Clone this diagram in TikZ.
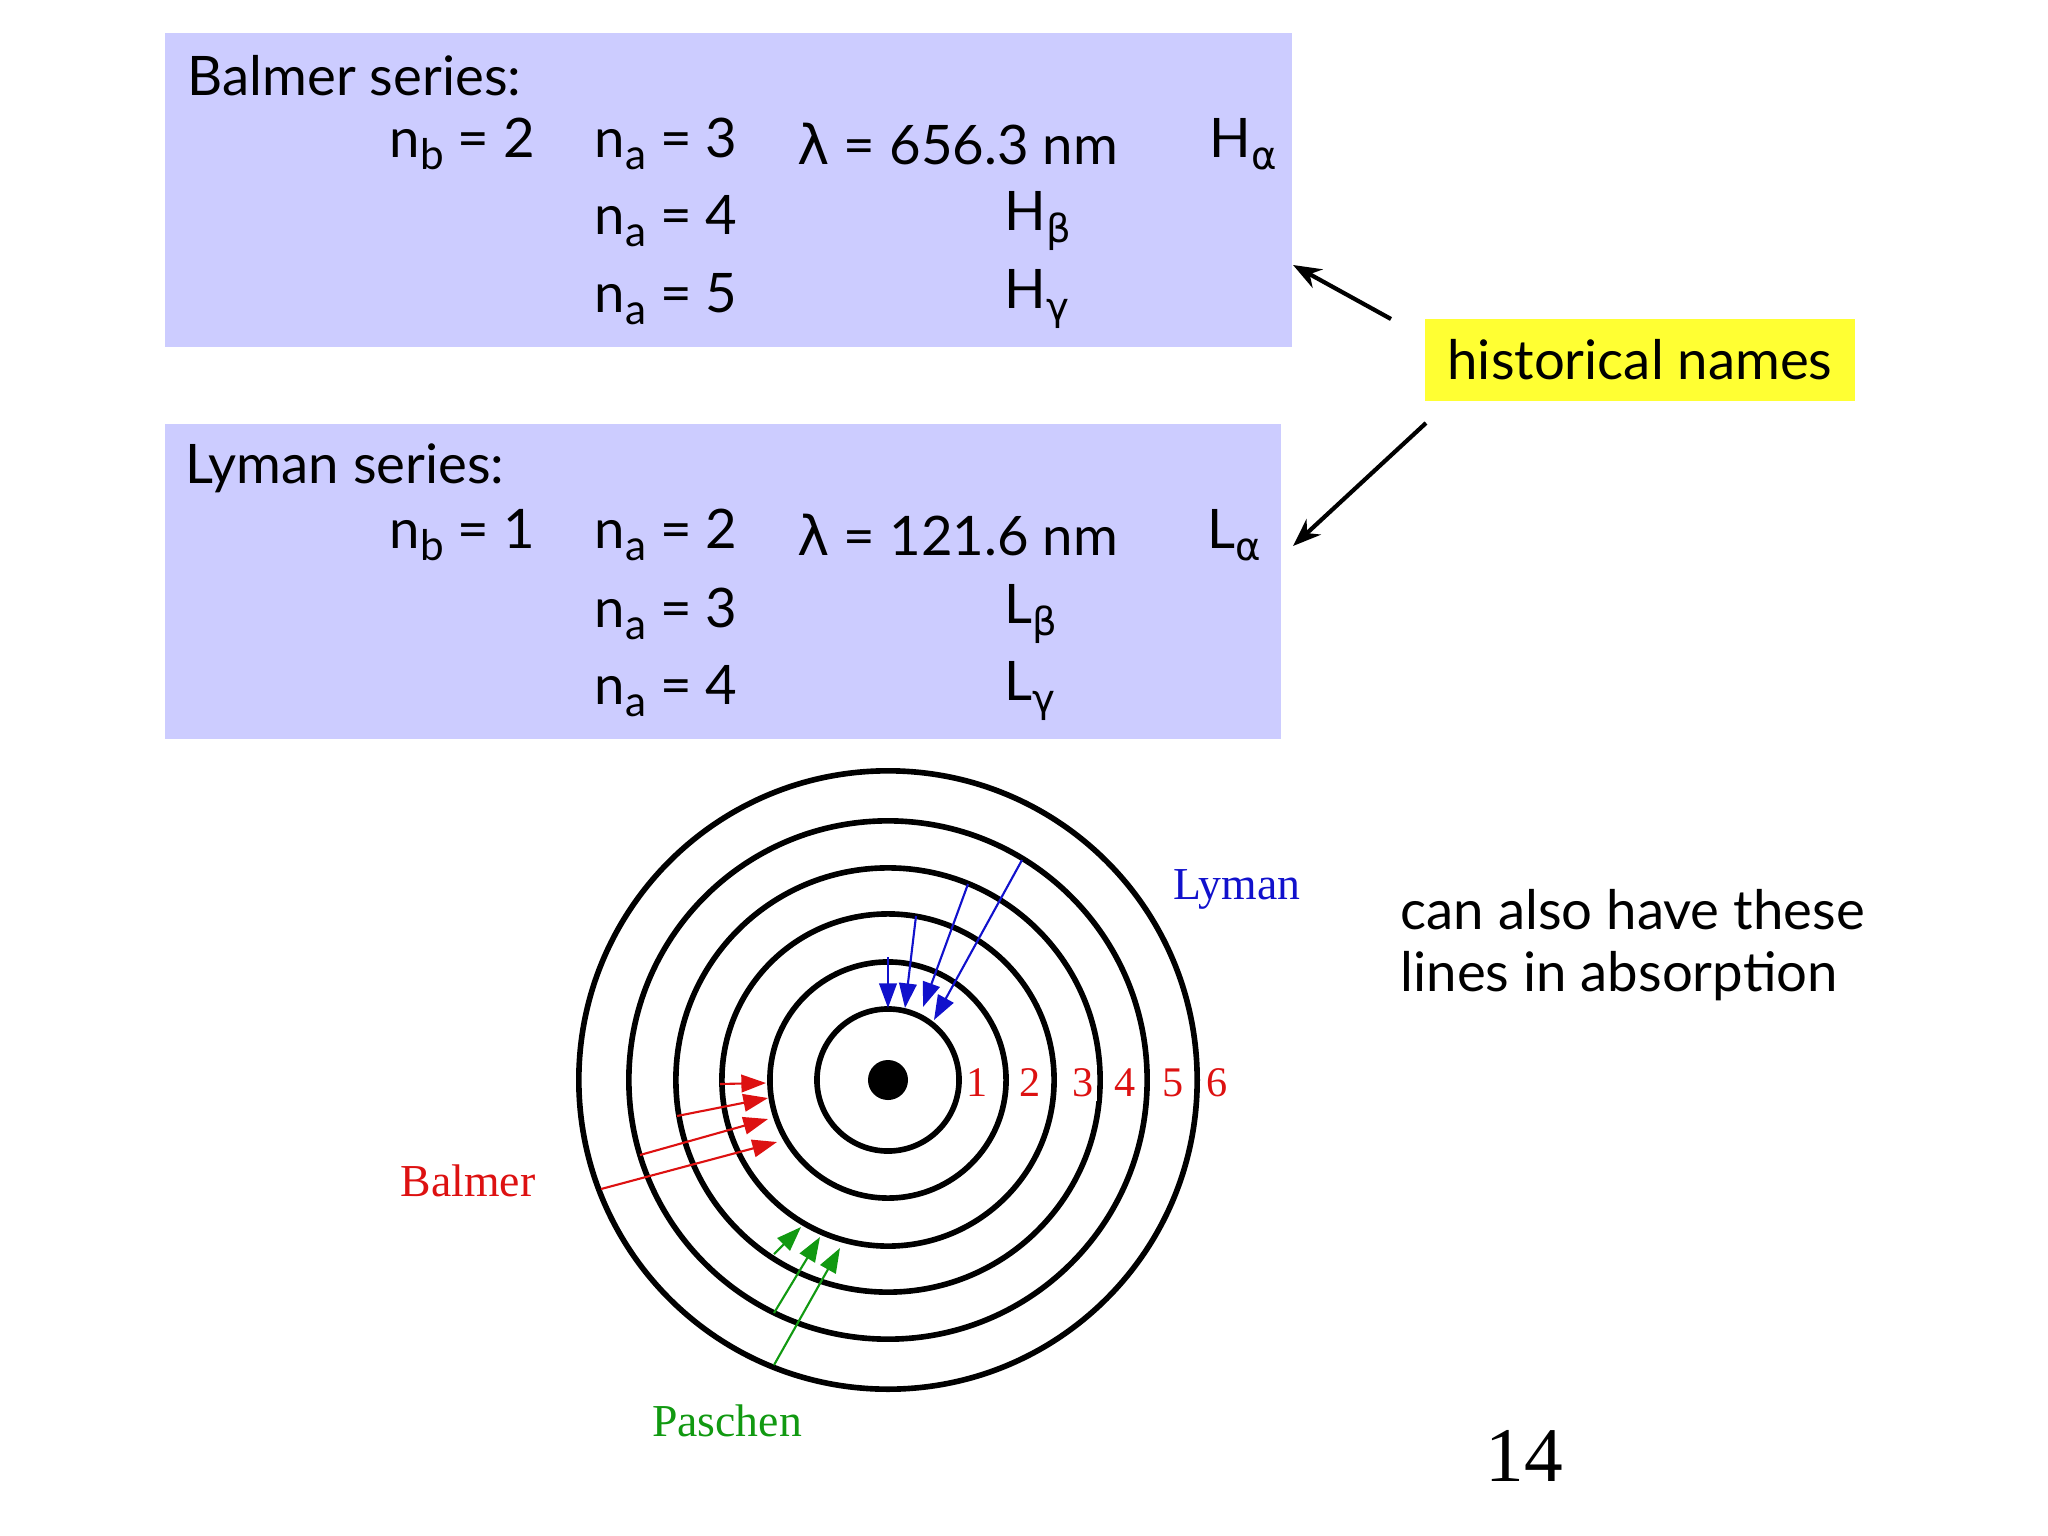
\documentclass[tikz,border=0pt]{standalone}
\usepackage{fontspec}
\setmainfont{Lato}
\newfontfamily\tnr{Liberation Serif}
\newfontfamily\gk{DejaVu Sans}
\usetikzlibrary{arrows.meta}
\definecolor{lav}{HTML}{CCCCFF}
\definecolor{ylw}{HTML}{FFFF33}
\definecolor{rd}{HTML}{DD1111}
\definecolor{bl}{HTML}{1111CC}
\definecolor{gr}{HTML}{119911}
\newcommand{\sbs}[1]{\raisebox{-0.45ex}{\fontsize{12}{14}\selectfont #1}}
\newcommand{\gsb}[1]{\raisebox{-0.45ex}{\gk\fontsize{11}{14}\selectfont #1}}
\begin{document}
\begin{tikzpicture}[x=0.01cm,y=-0.01cm,
  txt/.style={anchor=west,inner sep=0pt,font=\fontsize{15.5}{20}\selectfont},
  orbit/.style={line width=1.6pt},
  lab/.style={font=\tnr\fontsize{12}{14}\selectfont,inner sep=0pt},
  ray/.style={line width=0.6pt,-{Triangle[length=7pt,width=5pt]}},
  callout/.style={line width=1.2pt,-{Stealth[length=8pt,width=6pt]}}]
\useasboundingbox (0,0) rectangle (2048,1536);
% boxes
\fill[lav] (165,33) rectangle (1292,347);
\fill[lav] (165,424) rectangle (1281,739);
\node[txt] (bt) at (187,76) {Balmer series:};
\node[txt] (b1) at (389,144) {n\sbs{b} = 2};
\node[txt] (b2) at (594,144) {n\sbs{a} = 3};
\node[txt] (b3) at (797,144) {{\gk λ} = 656.3 nm};
\node[txt] (b4) at (1209,144) {H\gsb{α}};
\node[txt] (b5) at (594,221) {n\sbs{a} = 4};
\node[txt] (b6) at (1004,221) {H\gsb{β}};
\node[txt] (b7) at (594,299) {n\sbs{a} = 5};
\node[txt] (b8) at (1004,299) {H\gsb{γ}};
\node[txt] (lt) at (185,468) {Lyman series:};
\node[txt] (l1) at (389,535) {n\sbs{b} = 1};
\node[txt] (l2) at (594,535) {n\sbs{a} = 2};
\node[txt] (l3) at (797,535) {{\gk λ} = 121.6 nm};
\node[txt] (l4) at (1207,535) {L\gsb{α}};
\node[txt] (l5) at (594,614) {n\sbs{a} = 3};
\node[txt] (l6) at (1004,614) {L\gsb{β}};
\node[txt] (l7) at (594,691) {n\sbs{a} = 4};
\node[txt] (l8) at (1004,691) {L\gsb{γ}};
% historical names
\node[fill=ylw,minimum width=4.29cm,minimum height=0.82cm,font=\fontsize{15.5}{20}\selectfont] (hn) at (1640,360) {historical names};
\coordinate (h1) at (1391,319); \coordinate (h1e) at (1293,265);
\coordinate (h2) at (1426,423); \coordinate (h2e) at (1293,546);
\draw[callout] (h1) -- (h1e);
\draw[callout] (h2) -- (h2e);
\node[txt,align=left,font=\fontsize{15.5}{17.5}\selectfont] (abs) at (1400,945) {can also have these\\lines in absorption};
\node[font=\tnr\fontsize{22}{26}\selectfont] (pg) at (1524,1456) {14};
% atom
\coordinate (c) at (888,1080);
\foreach \r in {0.71,1.18,1.66,2.12,2.59,3.09} \draw[orbit] (c) circle[radius=\r cm];
\fill (c) circle[radius=0.2cm];
\foreach \n/\x in {1/977,2/1030,3/1083,4/1125,5/1173,6/1217}
  \node[lab,text=rd,fill=white,inner sep=1pt] (n\n) at (\x,1083) {\n};
% Lyman
\foreach \a/\b/\c/\d in {888/957/888/1008, 916/916/905/1008, 968/884/923/1007, 1022/860/934/1020}
  \draw[ray,bl] (\a,\b) -- (\c,\d);
% Balmer
\foreach \a/\b/\c/\d in {720/1084/766/1083, 677/1116/768/1098, 640/1155/768/1119, 601/1189/777/1142}
  \draw[ray,rd] (\a,\b) -- (\c,\d);
% Paschen
\foreach \a/\b/\c/\d in {774/1254/801/1227, 774/1313/820/1237, 774/1365/840/1248}
  \draw[ray,gr] (\a,\b) -- (\c,\d);
\node[lab,text=bl,font=\tnr\fontsize{13}{15}\selectfont] (ly) at (1237,889) {Lyman};
\node[lab,text=rd,font=\tnr\fontsize{13}{15}\selectfont] (ba) at (468,1181) {Balmer};
\node[lab,text=gr,font=\tnr\fontsize{13}{15}\selectfont] (pa) at (727,1421) {Paschen};
\end{tikzpicture}
\end{document}
